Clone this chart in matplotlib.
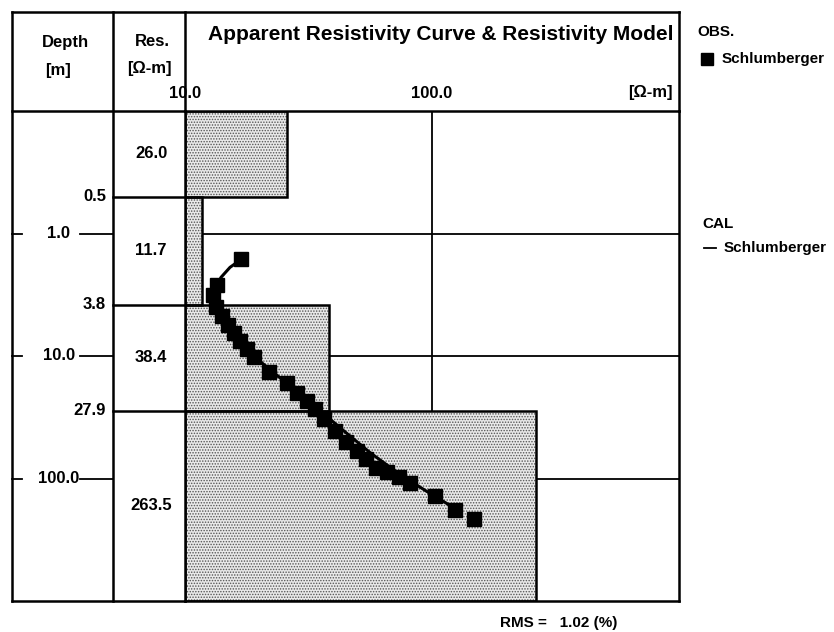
import matplotlib
matplotlib.use('Agg')
import matplotlib.pyplot as plt
import numpy as np
from matplotlib.patches import Rectangle
from matplotlib.lines import Line2D
from matplotlib.transforms import blended_transform_factory

plt.rcParams['font.family'] = ['Liberation Sans', 'DejaVu Sans']
plt.rcParams['hatch.linewidth'] = 0.7

# modelo de camadas
layer_top = [0.1, 0.5, 3.8, 27.9]
layer_bot = [0.5, 3.8, 27.9, 1000.0]
layer_res = [26.0, 11.7, 38.4, 263.5]
res_labels = ['26.0', '11.7', '38.4', '263.5']
bound_depth = [0.5, 3.8, 27.9]
bound_labels = ['0.5', '3.8', '27.9']
tick_depth = [1.0, 10.0, 100.0]
tick_labels = ['1.0', '10.0', '100.0']
xtick_vals = [10.0, 100.0]
xtick_labels = ['10.0', '100.0']

# curva observada (AB/2, rho_a)
obs_ab2 = [1.63, 2.65, 3.19, 4.00, 4.73, 5.60, 6.50, 7.55, 8.77, 10.19,
           13.49, 16.58, 19.99, 23.22, 26.97, 32.53, 40.71, 50.03, 59.20,
           68.78, 81.38, 87.73, 98.1, 109.8, 140.1, 182.0, 215.4]
obs_rho = [16.86, 13.48, 12.98, 13.35, 14.12, 14.94, 15.79, 16.70, 17.82,
           19.03, 21.88, 25.88, 28.41, 31.19, 33.60, 36.54, 40.49, 44.86,
           49.71, 54.06, 59.33, 65.73, 73.53, 81.47, 102.8, 123.9, 147.9]

# curva calculada
cal_ab2 = [1.63, 1.89, 2.28, 2.85, 3.57, 4.39, 5.70, 7.99, 11.40, 16.27,
           24.56, 38.49, 61.45, 92.80, 132.4, 185.5]
cal_rho = [16.86, 15.21, 13.99, 13.23, 13.10, 13.73, 15.07, 17.33, 20.50,
           25.40, 32.67, 42.42, 56.11, 74.20, 98.15, 129.8]

rms = 1.02

W, H = 834, 632
fig = plt.figure(figsize=(W / 100, H / 100), dpi=100)


def fx(px):
    return px / W


def fy(py):
    return 1 - py / H


X_L, X_DC, X_RC, X_R = 12, 113, 185, 679
Y_T, Y_H, Y_B = 12, 111, 601
LW = 1.8

ax = fig.add_axes([fx(X_RC), fy(Y_B), fx(X_R) - fx(X_RC), (Y_B - Y_H) / H])
ax.set_xscale('log')
ax.set_yscale('log')
ax.set_xlim(10, 1000)
ax.set_ylim(1000, 0.1)
ax.set_xticks([])
ax.set_yticks([])
ax.minorticks_off()
ax.tick_params(which='both', length=0, labelleft=False, labelbottom=False)
for s in ax.spines.values():
    s.set_linewidth(LW)

# linhas de grade
ax.axvline(100, color='k', lw=1.3, zorder=1)
for d in tick_depth:
    ax.axhline(d, color='k', lw=1.3, zorder=1)

# blocos do modelo
for t, b, r in zip(layer_top, layer_bot, layer_res):
    ax.add_patch(Rectangle((10, t), r - 10, b - t, facecolor='#e9e9e9',
                           edgecolor='#555555', hatch='......', lw=0, zorder=2))
    ax.add_patch(Rectangle((10, t), r - 10, b - t, facecolor='none',
                           edgecolor='k', lw=LW, zorder=3))

ax.plot(cal_rho, cal_ab2, color='k', lw=2.2, zorder=4)
ax.plot(obs_rho, obs_ab2, 's', color='k', ms=9.5, zorder=5)

# moldura do cabecalho e colunas
def fline(xs, ys, lw=LW):
    fig.add_artist(Line2D([fx(x) for x in xs], [fy(y) for y in ys],
                          color='k', lw=lw, transform=fig.transFigure))


fline([X_L, X_R], [Y_T, Y_T])
fline([X_L, X_RC], [Y_H, Y_H])
fline([X_L, X_RC], [Y_B, Y_B])
fline([X_L, X_L], [Y_T, Y_B])
fline([X_DC, X_DC], [Y_T, Y_B])
fline([X_RC, X_RC], [Y_T, Y_H])
fline([X_R, X_R], [Y_T, Y_H])

fs = 12
fig.text(fx(65), fy(42), 'Depth', ha='center', va='center', fontsize=fs, fontweight='bold')
fig.text(fx(58), fy(70), '[m]', ha='center', va='center', fontsize=fs, fontweight='bold')
fig.text(fx(152), fy(42), 'Res.', ha='center', va='center', fontsize=fs, fontweight='bold')
fig.text(fx(149), fy(69), '[Ω-m]', ha='center', va='center', fontsize=fs, fontweight='bold')
fig.text(fx(441), fy(34), 'Apparent Resistivity Curve & Resistivity Model',
         ha='center', va='center', fontsize=15, fontweight='bold')

# rotulos do eixo x
tx = blended_transform_factory(ax.transData, fig.transFigure)
for v, lab in zip(xtick_vals, xtick_labels):
    ax.text(v, fy(93), lab, transform=tx, ha='center', va='center',
            fontsize=fs, fontweight='bold', clip_on=False)
fig.text(fx(673), fy(93), '[Ω-m]', ha='right', va='center', fontsize=fs, fontweight='bold')

# coluna de profundidade
ty = blended_transform_factory(fig.transFigure, ax.transData)
for d, lab in zip(tick_depth, tick_labels):
    ax.plot([fx(X_L), fx(22)], [d, d], color='k', lw=1.3, transform=ty, clip_on=False)
    ax.plot([fx(80), fx(X_DC)], [d, d], color='k', lw=1.3, transform=ty, clip_on=False)
    ax.text(fx(59), d, lab, transform=ty, ha='center', va='center',
            fontsize=fs, fontweight='bold', clip_on=False)

for d, lab in zip(bound_depth, bound_labels):
    ax.text(fx(106), d, lab, transform=ty, ha='right', va='center',
            fontsize=fs, fontweight='bold', clip_on=False)
    ax.plot([fx(X_DC), fx(X_RC)], [d, d], color='k', lw=LW, transform=ty, clip_on=False)

# coluna de resistividade
for t, b, lab in zip(layer_top, layer_bot, res_labels):
    ax.text(fx(151), np.sqrt(t * b), lab, transform=ty, ha='center', va='center',
            fontsize=fs, fontweight='bold', clip_on=False)

# legenda
lfs = 11
fig.text(fx(697), fy(32), 'OBS.', ha='left', va='center', fontsize=lfs, fontweight='bold')
fig.add_artist(Line2D([fx(707)], [fy(59)], marker='s', ms=8.5, color='k',
                      transform=fig.transFigure))
fig.text(fx(722), fy(59), 'Schlumberger', ha='left', va='center', fontsize=lfs, fontweight='bold')
fig.text(fx(702), fy(224), 'CAL', ha='left', va='center', fontsize=lfs, fontweight='bold')
fig.add_artist(Line2D([fx(704), fx(716)], [fy(248), fy(248)], color='k', lw=1.3,
                      transform=fig.transFigure))
fig.text(fx(724), fy(248), 'Schlumberger', ha='left', va='center', fontsize=lfs, fontweight='bold')

fig.text(fx(500), fy(623), 'RMS =   %.2f (%%)' % rms, ha='left', va='center',
         fontsize=lfs, fontweight='bold')

fig.savefig('out.png', dpi=100, facecolor='white')
